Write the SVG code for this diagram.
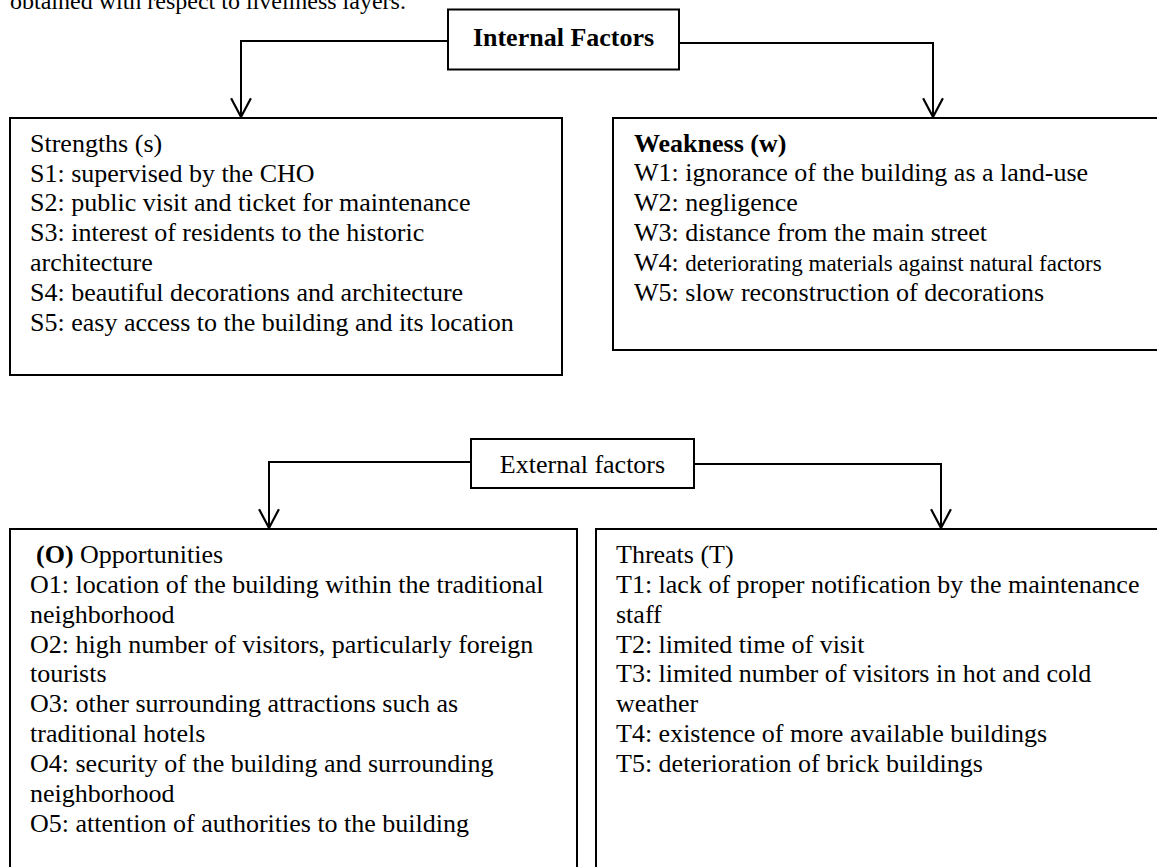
<svg xmlns="http://www.w3.org/2000/svg" width="1157" height="867" viewBox="0 0 1157 867">
<style>
text{font-family:"Liberation Serif","Times New Roman",serif;font-size:26px;fill:#000}
.b{font-weight:bold}
.sm{font-size:23px}
.box{fill:#fff;stroke:#000;stroke-width:2}
.con{fill:none;stroke:#000;stroke-width:2}
</style>
<defs>
<marker id="v" markerUnits="userSpaceOnUse" markerWidth="22" markerHeight="22" viewBox="0 0 20 20" refX="18" refY="10" orient="auto" overflow="visible">
<path d="M1,1 L18,10 L1,19" fill="none" stroke="#000" stroke-width="2"/>
</marker>
</defs>
<rect width="1157" height="867" fill="#fff"/>
<text x="10" y="9" style="font-size:24px">obtained with respect to liveliness layers.</text>
<g id="connectors">
<path class="con" d="M448,41 H241 V117" marker-end="url(#v)"/>
<path class="con" d="M679,43 H933 V117" marker-end="url(#v)"/>
<path class="con" d="M471,462 H269 V528" marker-end="url(#v)"/>
<path class="con" d="M694,464 H941 V528" marker-end="url(#v)"/>
</g>
<g id="internal">
<rect class="box" x="448" y="9.5" width="231" height="60"/>
<text class="b" x="563.5" y="46" text-anchor="middle">Internal Factors</text>
</g>
<g id="strengths">
<rect class="box" x="10" y="118" width="552" height="257"/>
<text x="30" y="152">Strengths (s)</text>
<text x="30" y="182">S1: supervised by the CHO</text>
<text x="30" y="211">S2: public visit and ticket for maintenance</text>
<text x="30" y="241">S3: interest of residents to the historic</text>
<text x="30" y="271">architecture</text>
<text x="30" y="301">S4: beautiful decorations and architecture</text>
<text x="30" y="331">S5: easy access to the building and its location</text>
</g>
<g id="weakness">
<rect class="box" x="613" y="118" width="560" height="232"/>
<text class="b" x="634" y="152">Weakness (w)</text>
<text x="634" y="181">W1: ignorance of the building as a land-use</text>
<text x="634" y="211">W2: negligence</text>
<text x="634" y="241">W3: distance from the main street</text>
<text x="634" y="271">W4: <tspan class="sm">deteriorating materials against natural factors</tspan></text>
<text x="634" y="301">W5: slow reconstruction of decorations</text>
</g>
<g id="external">
<rect class="box" x="471" y="439" width="223" height="49"/>
<text x="582.5" y="473" text-anchor="middle">External factors</text>
</g>
<g id="opportunities">
<rect class="box" x="10" y="529" width="567" height="350"/>
<text x="36" y="563"><tspan class="b">(O)</tspan> Opportunities</text>
<text x="30" y="593">O1: location of the building within the traditional</text>
<text x="30" y="623">neighborhood</text>
<text x="30" y="653">O2: high number of visitors, particularly foreign</text>
<text x="30" y="682">tourists</text>
<text x="30" y="712">O3: other surrounding attractions such as</text>
<text x="30" y="742">traditional hotels</text>
<text x="30" y="772">O4: security of the building and surrounding</text>
<text x="30" y="802">neighborhood</text>
<text x="30" y="832">O5: attention of authorities to the building</text>
</g>
<g id="threats">
<rect class="box" x="596" y="529" width="580" height="350"/>
<text x="616" y="563">Threats (T)</text>
<text x="616" y="593">T1: lack of proper notification by the maintenance</text>
<text x="616" y="623">staff</text>
<text x="616" y="653">T2: limited time of visit</text>
<text x="616" y="682">T3: limited number of visitors in hot and cold</text>
<text x="616" y="712">weather</text>
<text x="616" y="742">T4: existence of more available buildings</text>
<text x="616" y="772">T5: deterioration of brick buildings</text>
</g>
</svg>
